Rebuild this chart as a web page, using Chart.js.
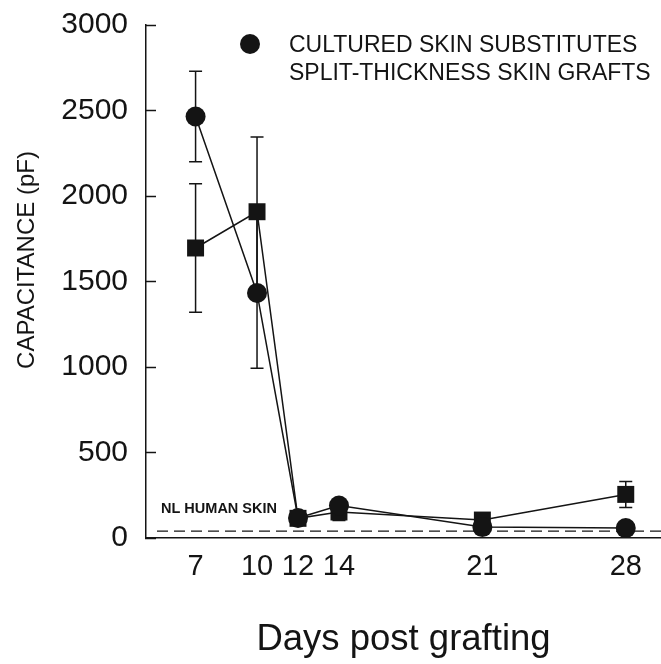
<!DOCTYPE html>
<html>
<head>
<meta charset="utf-8">
<script src="https://cdn.jsdelivr.net/npm/chart.js@4.4.1/dist/chart.umd.min.js"></script>
<style>
    html, body { margin: 0; padding: 0; background: #ffffff; }
    #wrap { width: 661px; height: 664px; }
</style>
</head>
<body>
<div id="wrap"><canvas id="chart" width="661" height="664"></canvas></div>
<script>
// 데이터
const days = [7, 10, 12, 14, 21, 28];
const tickDays = [7, 10, 12, 14, 21, 28];
const yTicks = [0, 500, 1000, 1500, 2000, 2500, 3000];

const cssMean = [2465, 1433, 117, 190, 64, 58];
const cssErr  = [265, 440, 0, 0, 0, 0];

const stsgMean = [1696, 1908, 115, 152, 105, 255];
const stsgErr  = [376, 437, 0, 50, 0, 76];

const nlSkin = 40;

const seriesNames = ['CULTURED SKIN SUBSTITUTES', 'SPLIT-THICKNESS SKIN GRAFTS'];

const FONT = '"Liberation Sans", Arial, Helvetica, sans-serif';
const INK = '#141414';

function toPoints(xs, ys) {
    return xs.map((x, i) => ({ x: x, y: ys[i] }));
}

// 에러바 + 정상 피부 기준선
const overlayPlugin = {
    id: 'overlay',
    beforeDatasetsDraw(chart) {
        const ctx = chart.ctx;
        const xs = chart.scales.x;
        const ys = chart.scales.y;
        const area = chart.chartArea;

        // 기준선 (NL HUMAN SKIN)
        const yNl = ys.getPixelForValue(nlSkin);
        ctx.save();
        ctx.strokeStyle = INK;
        ctx.lineWidth = 1.3;
        ctx.setLineDash([11, 6]);
        ctx.beginPath();
        ctx.moveTo(area.left + 11, yNl);
        ctx.lineTo(area.right, yNl);
        ctx.stroke();
        ctx.setLineDash([]);
        ctx.fillStyle = INK;
        ctx.font = 'bold 14.5px ' + FONT;
        ctx.textBaseline = 'middle';
        ctx.textAlign = 'left';
        ctx.fillText('NL HUMAN SKIN', area.left + 15, yNl - 22);

        // 에러바
        const groups = [[cssMean, cssErr], [stsgMean, stsgErr]];
        ctx.lineWidth = 1.5;
        groups.forEach(([mean, err]) => {
            days.forEach((d, i) => {
                if (!err[i]) return;
                const px = xs.getPixelForValue(d);
                const top = ys.getPixelForValue(mean[i] + err[i]);
                const bot = ys.getPixelForValue(mean[i] - err[i]);
                ctx.beginPath();
                ctx.moveTo(px, top);
                ctx.lineTo(px, bot);
                ctx.moveTo(px - 6.5, top);
                ctx.lineTo(px + 6.5, top);
                ctx.moveTo(px - 6.5, bot);
                ctx.lineTo(px + 6.5, bot);
                ctx.stroke();
            });
        });
        ctx.restore();
    },
    afterDraw(chart) {
        const ctx = chart.ctx;
        const area = chart.chartArea;
        ctx.save();
        ctx.fillStyle = INK;

        // 범례
        ctx.beginPath();
        ctx.arc(area.left + 104, 44, 10, 0, Math.PI * 2);
        ctx.fill();
        ctx.font = '23px ' + FONT;
        ctx.textAlign = 'left';
        ctx.textBaseline = 'middle';
        ctx.fillText(seriesNames[0], area.left + 143, 46);
        ctx.fillText(seriesNames[1], area.left + 143, 74);

        // 세로축 제목
        ctx.translate(27, 260);
        ctx.rotate(-Math.PI / 2);
        ctx.font = '24px ' + FONT;
        ctx.textAlign = 'center';
        ctx.fillText('CAPACITANCE (pF)', 0, 0);
        ctx.restore();
    }
};

new Chart(document.getElementById('chart'), {
    type: 'line',
    data: {
        datasets: [
            {
                label: seriesNames[0],
                data: toPoints(days, cssMean),
                borderColor: INK,
                borderWidth: 1.5,
                backgroundColor: INK,
                pointStyle: 'circle',
                pointRadius: 10,
                pointBorderWidth: 0,
                tension: 0,
                clip: false
            },
            {
                label: seriesNames[1],
                data: toPoints(days, stsgMean),
                borderColor: INK,
                borderWidth: 1.5,
                backgroundColor: INK,
                pointStyle: 'rect',
                pointRadius: 12,
                pointBorderWidth: 0,
                tension: 0,
                clip: false
            }
        ]
    },
    options: {
        responsive: false,
        animation: false,
        layout: { autoPadding: false, padding: { top: 25, right: 0, left: 0, bottom: 0 } },
        plugins: {
            legend: { display: false },
            tooltip: { enabled: false }
        },
        scales: {
            x: {
                type: 'linear',
                position: 'bottom',
                min: 4.58,
                max: 29.72,
                afterBuildTicks: s => { s.ticks = tickDays.map(v => ({ value: v })); },
                afterFit: s => {
                    s.height = 126;
                    s.paddingLeft = 0;
                    s.paddingRight = 0;
                },
                grid: { display: false, drawTicks: false },
                border: { display: true, color: INK, width: 1.5 },
                ticks: {
                    autoSkip: false,
                    maxRotation: 0,
                    padding: 12,
                    color: INK,
                    font: { family: FONT, size: 29 },
                    callback: v => String(v)
                },
                title: {
                    display: true,
                    text: 'Days post grafting',
                    color: INK,
                    font: { family: FONT, size: 36.5 },
                    padding: { top: 0, bottom: 2 }
                }
            },
            y: {
                type: 'linear',
                position: 'left',
                min: 0,
                max: 3000,
                afterBuildTicks: s => { s.ticks = yTicks.map(v => ({ value: v })); },
                afterFit: s => {
                    s.width = 146;
                    s.paddingTop = 0;
                    s.paddingBottom = 0;
                },
                grid: {
                    display: true,
                    drawOnChartArea: false,
                    drawTicks: true,
                    tickLength: -10,
                    tickWidth: 1.5,
                    tickColor: INK
                },
                border: { display: true, color: INK, width: 1.5 },
                ticks: {
                    padding: 28,
                    color: INK,
                    font: { family: FONT, size: 30 },
                    callback: v => String(v)
                }
            }
        }
    },
    plugins: [overlayPlugin]
});
</script>
</body>
</html>
